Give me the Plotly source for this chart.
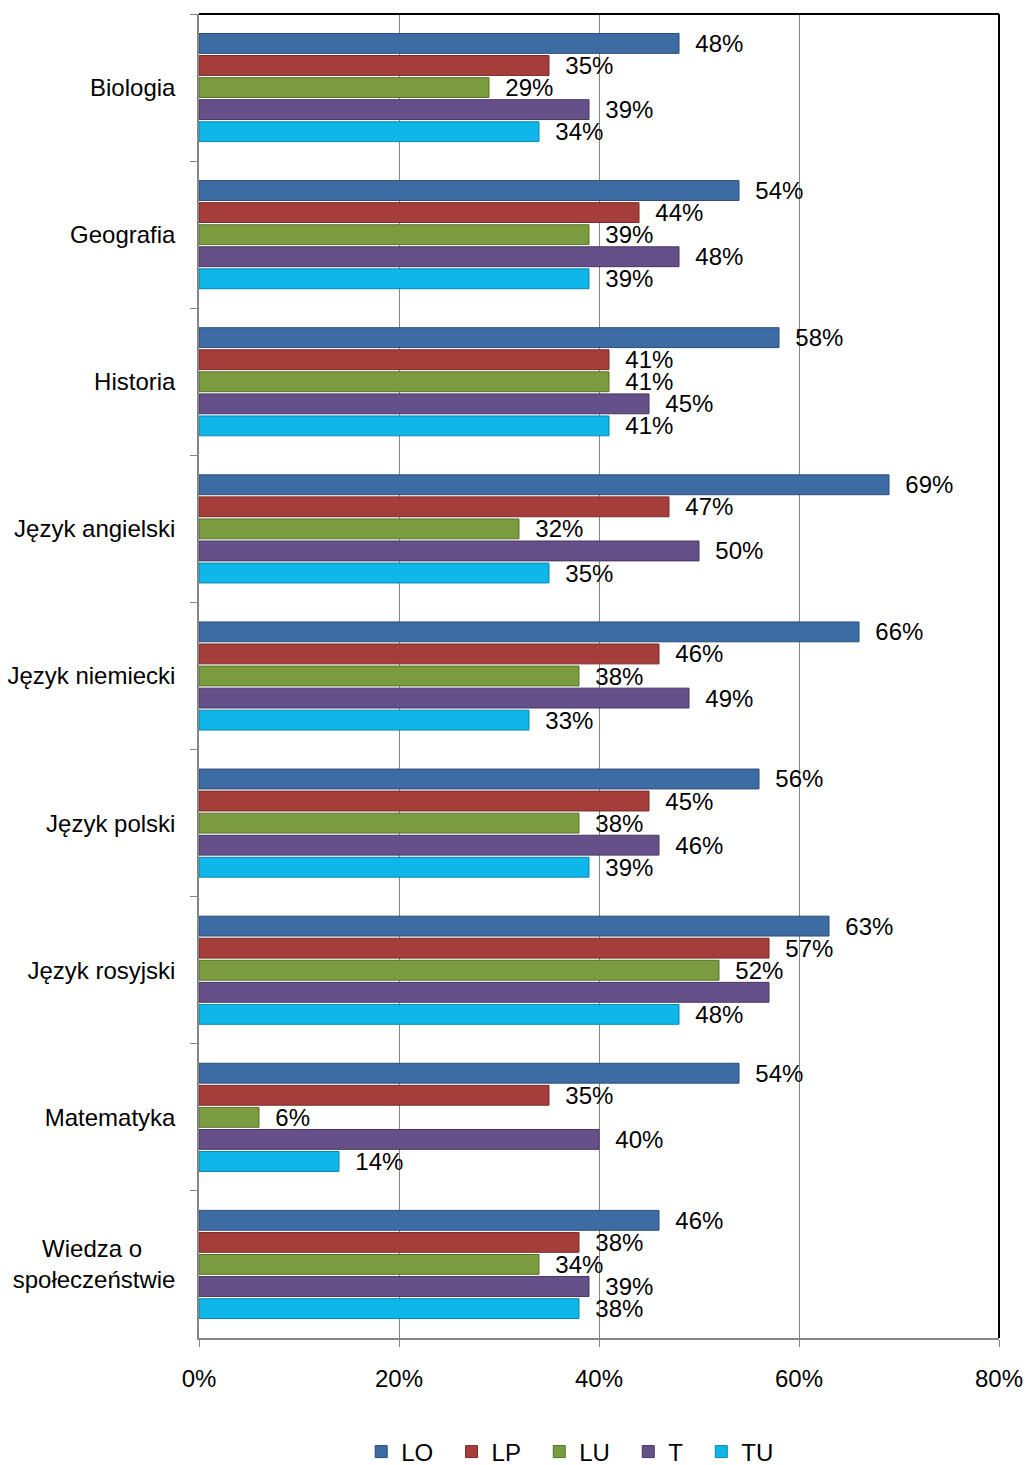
import plotly.graph_objects as go

categories = ["Biologia", "Geografia", "Historia", "Język angielski", "Język niemiecki",
              "Język polski", "Język rosyjski", "Matematyka",
              "Wiedza o\u00a0\u00a0\u00a0\u00a0\u00a0<br>społeczeństwie"]
series_names = ["LO", "LP", "LU", "T", "TU"]
LO = [48, 54, 58, 69, 66, 56, 63, 54, 46]
LP = [35, 44, 41, 47, 46, 45, 57, 35, 38]
LU = [29, 39, 41, 32, 38, 38, 52, 6, 34]
T = [39, 48, 45, 50, 49, 46, 57, 40, 39]
TU = [34, 39, 41, 35, 33, 39, 48, 14, 38]
# the T label for "Język rosyjski" is not shown in the source chart
T_labels_hidden = ["Język rosyjski"]
x_ticks = [0, 20, 40, 60, 80]
x_tick_labels = ["0%", "20%", "40%", "60%", "80%"]

colors = ["#3D6BA3", "#A53E3B", "#7B9B3F", "#665089", "#0FB6E9"]
edge = ["#2C4D75", "#772B29", "#58702C", "#463660", "#0A86AD"]

FONT = "Liberation Sans, Arial, sans-serif"

fig = go.Figure()
for i, (name, vals) in enumerate(zip(series_names, [LO, LP, LU, T, TU])):
    texts = []
    for c, v in zip(categories, vals):
        if name == "T" and c in T_labels_hidden:
            texts.append("")
        else:
            texts.append("\u00a0\u00a0" + f"{v}%")
    legend_name = name if i == len(series_names) - 1 else name + "\u00a0\u00a0"
    fig.add_trace(go.Bar(
        name=legend_name, y=categories, x=vals, orientation="h",
        marker=dict(color=colors[i], line=dict(color=edge[i], width=1)),
        text=texts, textposition="outside", constraintext="none", cliponaxis=False,
        textfont=dict(size=24, color="#000000", family=FONT),
        hoverinfo="x+y+name",
    ))

fig.update_layout(
    width=1027, height=1465,
    margin=dict(l=199, r=28, t=14, b=127, autoexpand=False),
    barmode="group", bargap=0.25, bargroupgap=0.1,
    plot_bgcolor="white", paper_bgcolor="white",
    font=dict(family=FONT, size=24, color="#000000"),
    xaxis=dict(range=[0, 80], tickvals=x_ticks, ticktext=x_tick_labels,
               showgrid=True, gridcolor="#868686", gridwidth=1.3,
               showline=True, linecolor="#868686", linewidth=1.5,
               ticks="outside", ticklen=7, tickcolor="#868686",
               ticklabelstandoff=11, zeroline=False, automargin=False,
               tickfont=dict(size=24)),
    yaxis=dict(autorange="reversed", showline=True, linecolor="#868686", linewidth=1.5,
               ticks="outside", ticklen=7, tickcolor="#868686", tickson="boundaries",
               ticklabelstandoff=17, showgrid=False, automargin=False,
               tickfont=dict(size=24)),
    legend=dict(orientation="h", x=0.464, xanchor="center", y=-0.0861, yanchor="middle",
                font=dict(size=24), itemwidth=30, traceorder="normal"),
    shapes=[
        dict(type="line", xref="paper", yref="paper", x0=0, x1=1, y0=1, y1=1,
             line=dict(color="#000000", width=2)),
        dict(type="line", xref="paper", yref="paper", x0=1, x1=1, y0=0, y1=1,
             line=dict(color="#000000", width=2)),
    ],
)

# remove the browser's default 8px body margin so the figure fills the window exactly
fig.write_html("out.html", config={"displayModeBar": False},
               post_script="document.body.style.margin='0';document.body.style.overflow='hidden';")
